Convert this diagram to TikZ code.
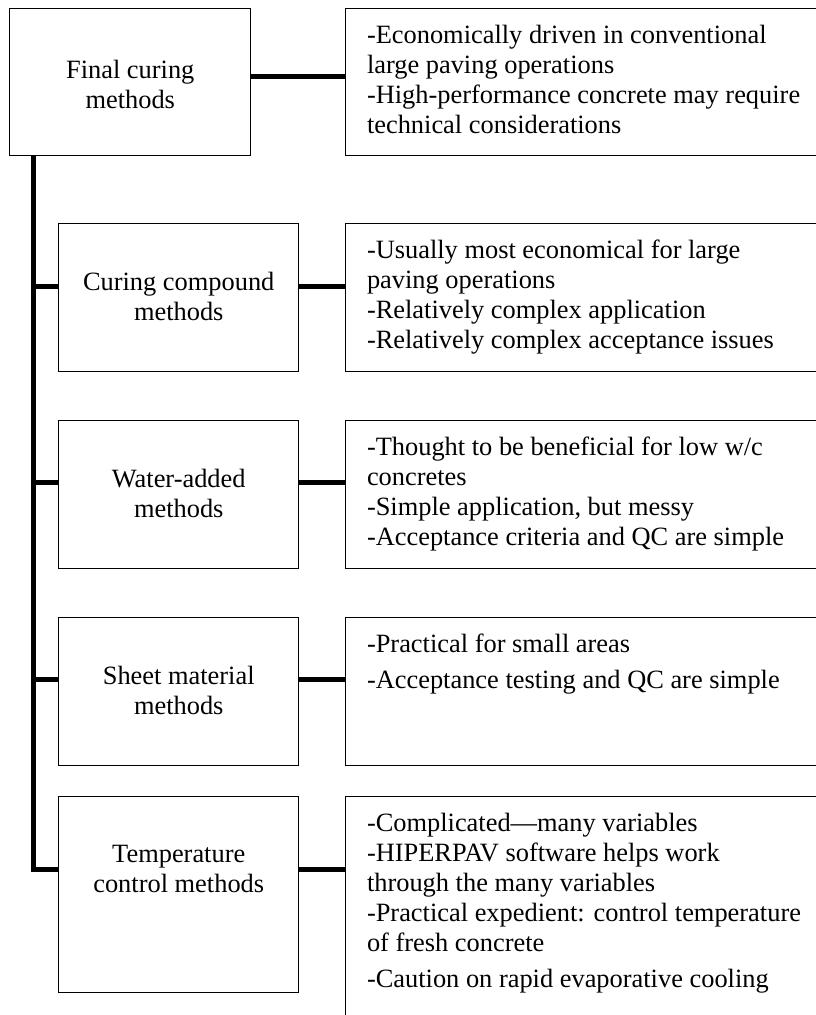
\documentclass[tikz,border=0pt]{standalone}
\usepackage{fontspec}
\setmainfont{Liberation Serif}
\usetikzlibrary{positioning}

\begin{document}
\begin{tikzpicture}[x=0.75pt, y=-0.75pt]
    \tikzstyle{method} = [rectangle, draw, line width=1.1pt, anchor=north west, minimum width=180pt, minimum height=111pt, inner sep=0pt]
    \tikzstyle{note} = [rectangle, draw, line width=1.1pt, anchor=north west, minimum width=375pt, minimum height=111pt, inner sep=0pt]
    \tikzstyle{methodtext} = [inner sep=0pt, align=center, font=\fontsize{19.8pt}{22.5pt}\selectfont]
    \tikzstyle{notetext} = [inner sep=0pt, align=left, font=\fontsize{19.8pt}{22.5pt}\selectfont]
    \tikzstyle{link} = [line width=3.75pt]

    \useasboundingbox (0,0) rectangle (816,1015);
    \clip (0,0) rectangle (816,1015);

    % boxes on the left
    \node[method, minimum width=180.75pt, minimum height=110.25pt] (final) at (9,8) {};
    \node[method] (compound) at (58,223) {};
    \node[method] (water) at (58,420) {};
    \node[method] (sheet) at (58,617) {};
    \node[method, minimum height=147pt] (temperature) at (58,796) {};

    \node[methodtext, below=39pt of final.north] (finaltxt) {Final curing\\methods};
    \node[methodtext, below=36.4pt of compound.north] (compoundtxt) {Curing compound\\methods};
    \node[methodtext, below=36.4pt of water.north] (watertxt) {Water-added\\methods};
    \node[methodtext, below=36.4pt of sheet.north] (sheettxt) {Sheet material\\methods};
    \node[methodtext, below=36.4pt of temperature.north] (temperaturetxt) {Temperature\\control methods};

    % boxes on the right
    \node[note, minimum height=110.25pt] (finalnote) at (345,8) {};
    \node[note] (compoundnote) at (345,223) {};
    \node[note] (waternote) at (345,420) {};
    \node[note] (sheetnote) at (345,617) {};
    \node[note, minimum height=190pt] (temperaturenote) at (345,796) {};

    \node[notetext, below right=12.75pt and 16.3pt of finalnote.north west] (finalnotetxt)
        {-Economically driven in conventional\\large paving operations\\-High-performance concrete may require\\technical considerations};
    \node[notetext, below right=12.75pt and 16.3pt of compoundnote.north west] (compoundnotetxt)
        {-Usually most economical for large\\paving operations\\-Relatively complex application\\-Relatively complex acceptance issues};
    \node[notetext, below right=12.75pt and 16.3pt of waternote.north west] (waternotetxt)
        {-Thought to be beneficial for low w/c\\concretes\\-Simple application, but messy\\-Acceptance criteria and QC are simple};
    \node[notetext, below right=12.75pt and 16.3pt of sheetnote.north west] (sheetnotetxt)
        {-Practical for small areas\\[4.5pt]-Acceptance testing and QC are simple};
    \node[notetext, below right=12.75pt and 16.3pt of temperaturenote.north west] (temperaturenotetxt)
        {-Complicated—many variables\\-HIPERPAV software helps work\\through the many variables\\-Practical expedient: control temperature\\of fresh concrete\\[4.5pt]-Caution on rapid evaporative cooling};

    % connector levels
    \coordinate (lvlA) at (0,76);
    \coordinate (lvlB) at (0,286);
    \coordinate (lvlC) at (0,482);
    \coordinate (lvlD) at (0,679);
    \coordinate (lvlE) at (0,869.5);
    \coordinate (spine) at (33.5,155);

    \draw[link] (final.east |- lvlA) -- (finalnote.west |- lvlA);
    \draw[link] (compound.east |- lvlB) -- (compoundnote.west |- lvlB);
    \draw[link] (water.east |- lvlC) -- (waternote.west |- lvlC);
    \draw[link] (sheet.east |- lvlD) -- (sheetnote.west |- lvlD);
    \draw[link] (temperature.east |- lvlE) -- (temperaturenote.west |- lvlE);

    \draw[link] (spine) |- (temperature.west |- lvlE);
    \draw[link] (spine |- lvlB) -- (compound.west |- lvlB);
    \draw[link] (spine |- lvlC) -- (water.west |- lvlC);
    \draw[link] (spine |- lvlD) -- (sheet.west |- lvlD);
\end{tikzpicture}
\end{document}
